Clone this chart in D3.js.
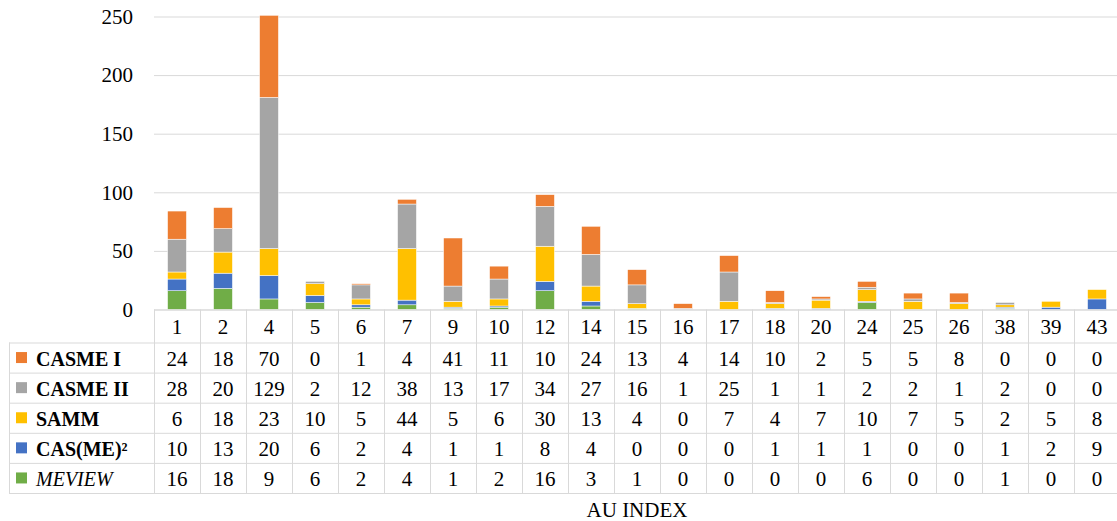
<!DOCTYPE html>
<html><head><meta charset="utf-8">
<script src="https://cdn.jsdelivr.net/npm/d3@7"></script>
<style>
html,body{margin:0;padding:0;background:#fff;}
svg{display:block;}
</style></head>
<body><svg id="chart" width="1117" height="521"></svg>
<script>
const categories = ["1","2","4","5","6","7","9","10","12","14","15","16","17","18","20","24","25","26","38","39","43"];
const casme1  = [24,18,70,0,1,4,41,11,10,24,13,4,14,10,2,5,5,8,0,0,0];
const casme2  = [28,20,129,2,12,38,13,17,34,27,16,1,25,1,1,2,2,1,2,0,0];
const samm    = [6,18,23,10,5,44,5,6,30,13,4,0,7,4,7,10,7,5,2,5,8];
const casme_sq= [10,13,20,6,2,4,1,1,8,4,0,0,0,1,1,1,0,0,1,2,9];
const meview  = [16,18,9,6,2,4,1,2,16,3,1,0,0,0,0,6,0,0,1,0,0];
const yTicks = [0,50,100,150,200,250];
const axisTitle = "AU INDEX";

const series = [
  {name:"CASME I", values:casme1, color:"#ED7D31", weight:"bold", style:"normal"},
  {name:"CASME II", values:casme2, color:"#A5A5A5", weight:"bold", style:"normal"},
  {name:"SAMM", values:samm, color:"#FFC000", weight:"bold", style:"normal"},
  {name:"CAS(ME)²", values:casme_sq, color:"#4472C4", weight:"bold", style:"normal"},
  {name:"MEVIEW", values:meview, color:"#70AD47", weight:"normal", style:"italic"}
];
// stack order bottom-up
const stackOrder = ["MEVIEW","CAS(ME)²","SAMM","CASME II","CASME I"];

const FONT = "Liberation Serif";
const svg = d3.select("#chart").attr("font-family", FONT);
const plotLeft = 154, colW = 46, plotTop = 16.5, plotBottom = 309.5;
const tableLeft = 9;
const headerH = 33, rowH = 30.1;

const x = d3.scaleBand().domain(categories).range([plotLeft, plotLeft + colW*categories.length]).padding(0);
const y = d3.scaleLinear().domain([0,250]).range([plotBottom, plotTop]);
const barW = x.bandwidth()*0.41;

// gridlines
svg.append("g").selectAll("line").data(yTicks).join("line")
  .attr("x1", plotLeft).attr("x2", 1117)
  .attr("y1", d=>y(d)+0.5).attr("y2", d=>y(d)+0.5)
  .attr("stroke","#d9d9d9").attr("stroke-width",1);

// y tick labels
svg.append("g").selectAll("text").data(yTicks).join("text")
  .attr("font-family", FONT)
  .attr("x", 133).attr("y", d=>y(d)).attr("dy","0.35em")
  .attr("text-anchor","end").attr("font-size",21).attr("fill","#000")
  .text(d=>d);

// stacked bars
const rows = categories.map((c,i)=>{
  const o={cat:c}; series.forEach(s=>o[s.name]=s.values[i]); return o;
});
const stack = d3.stack().keys(stackOrder)(rows);
const colorOf = Object.fromEntries(series.map(s=>[s.name,s.color]));
svg.append("g").selectAll("g").data(stack).join("g")
  .attr("fill", d=>colorOf[d.key])
  .selectAll("rect").data(d=>d).join("rect")
  .attr("x", d=>x(d.data.cat)+(x.bandwidth()-barW)/2)
  .attr("width", barW)
  .attr("y", d=>y(d[1]))
  .attr("height", d=>Math.max(0, y(d[0])-y(d[1])))
  .attr("stroke","#fff").attr("stroke-width",0.5);

// table
const tbl = svg.append("g");
const tableRight = plotLeft + colW*categories.length;
const gridC = "#d9d9d9";
const rowTop = i => plotBottom + headerH + i*rowH;
categories.forEach((c,i)=>{
  tbl.append("line").attr("x1",x(c)+0.5).attr("x2",x(c)+0.5)
    .attr("y1",plotBottom).attr("y2",rowTop(series.length)).attr("stroke",gridC);
});
tbl.append("line").attr("x1",tableRight-0.5).attr("x2",tableRight-0.5)
  .attr("y1",plotBottom).attr("y2",rowTop(series.length)).attr("stroke",gridC);
tbl.append("line").attr("x1",tableLeft+0.5).attr("x2",tableLeft+0.5)
  .attr("y1",rowTop(0)).attr("y2",rowTop(series.length)).attr("stroke",gridC);
for(let i=0;i<=series.length;i++){
  tbl.append("line").attr("x1",tableLeft).attr("x2",tableRight)
    .attr("y1",rowTop(i)+0.5).attr("y2",rowTop(i)+0.5).attr("stroke",gridC);
}
tbl.append("line").attr("x1",plotLeft).attr("x2",tableRight)
  .attr("y1",plotBottom+0.5).attr("y2",plotBottom+0.5).attr("stroke",gridC);

tbl.selectAll("text.hdr").data(categories).join("text").attr("class","hdr")
  .attr("font-family", FONT)
  .attr("x", d=>x(d)+x.bandwidth()/2).attr("y", plotBottom+headerH/2+1)
  .attr("dy","0.35em").attr("text-anchor","middle").attr("font-size",21)
  .text(d=>d);

series.forEach((s,ri)=>{
  const cy = rowTop(ri)+rowH/2;
  tbl.append("rect").attr("x",16).attr("y",cy-5.5).attr("width",11).attr("height",11).attr("fill",s.color);
  tbl.append("text").attr("font-family", FONT).attr("x",36).attr("y",cy+1).attr("dy","0.35em")
    .attr("font-size",20).attr("font-weight",s.weight).attr("font-style",s.style)
    .text(s.name);
  tbl.selectAll("text.v"+ri).data(s.values).join("text").attr("class","v"+ri)
    .attr("font-family", FONT)
    .attr("x",(d,i)=>x(categories[i])+x.bandwidth()/2).attr("y",cy+1)
    .attr("dy","0.35em").attr("text-anchor","middle").attr("font-size",21)
    .text(d=>d);
});

svg.append("text").attr("font-family", FONT).attr("x",(plotLeft+tableRight)/2).attr("y",510).attr("dy","0.35em")
  .attr("text-anchor","middle").attr("font-size",21).text(axisTitle);
</script></body></html>
